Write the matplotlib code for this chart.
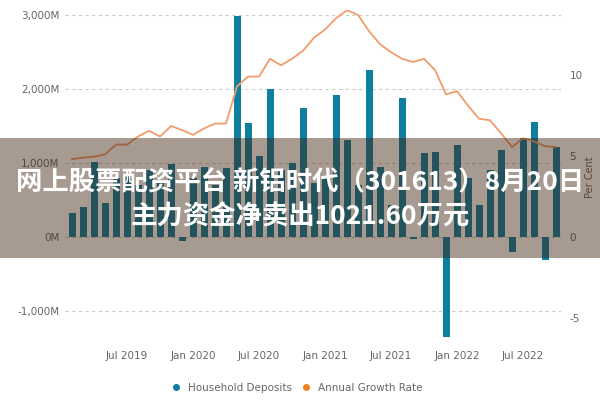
import numpy as np
import pandas as pd
import matplotlib
matplotlib.use("Agg")
import matplotlib.pyplot as plt
from matplotlib.patches import Rectangle
from matplotlib.lines import Line2D

plt.rcParams["axes.unicode_minus"] = False

# monthly data, Feb 2019 .. Oct 2022
months = pd.date_range("2019-02-01", periods=45, freq="MS")

deposits = [330, 400, 1020, 465, 800, 850, 700, 900, 750, 985,
            -50, 800, 950, 700, 930, 2990, 1540, 1100, 2000, 900,
            1000, 1740, 730, 800, 1920, 1310, 700, 2260, 950, 430,
            1880, -30, 1130, 1150, -1350, 1240, 800, 430, 900, 1170,
            -200, 1340, 1550, -310, 1220]

growth = [4.8, 4.9, 4.95, 5.1, 5.7, 5.7, 6.2, 6.55, 6.2, 6.85,
          6.6, 6.3, 6.7, 7.0, 7.0, 9.3, 9.9, 9.9, 11.0, 10.6,
          11.0, 11.5, 12.3, 12.8, 13.5, 14.0, 13.7, 12.7, 11.9, 11.4,
          11.0, 10.8, 11.0, 10.3, 8.8, 9.0, 8.1, 7.3, 7.2, 6.4,
          5.55, 6.1, 5.9, 5.6, 5.55]

left_ticks = [-1000, 0, 1000, 2000, 3000]
left_labels = ["-1,000M", "0M", "1,000M", "2,000M", "3,000M"]
right_ticks = [-5, 0, 5, 10]

title1 = "网上股票配资平台 新铝时代（301613）8月20日"
title2 = "主力资金净卖出1021.60万元"

bar_color = "#0f7fa0"
line_color = "#f39c6b"
grey = "#666666"

x = np.arange(len(months))

fig = plt.figure(figsize=(6, 4), dpi=100)
ax = fig.add_axes([65 / 600, 1 - 345 / 400, 496 / 600, 335 / 400])
ax.bar(x, deposits, width=0.64, color=bar_color, zorder=2)
ax.set_ylim(-1459, 3068)
ax.set_xlim(-0.64, 44.45)
ax.set_yticks(left_ticks)
ax.set_yticklabels(left_labels)
ax.grid(axis="y", color="#cccccc", linestyle=(0, (3, 3)), linewidth=0.8, zorder=0)

# x ticks every 6 months starting Jul 2019
tick_idx = [i for i, m in enumerate(months) if m.month in (1, 7)]
ax.set_xticks(tick_idx)
ax.set_xticklabels([months[i].strftime("%b %Y") for i in tick_idx])

for s in ax.spines.values():
    s.set_visible(False)
ax.tick_params(length=0, colors=grey, labelsize=7.5, pad=4)

ax2 = ax.twinx()
ax2.plot(x, growth, color=line_color, linewidth=1.3, zorder=3)
ax2.set_ylim(-6.67, 14.01)
ax2.set_yticks(right_ticks)
for s in ax2.spines.values():
    s.set_visible(False)
ax2.tick_params(length=0, colors=grey, labelsize=7.5, pad=6)
ax2.set_ylabel("Per Cent", color=grey, fontsize=7, labelpad=2)

handles = [Line2D([], [], marker="o", linestyle="", color=bar_color, markersize=4),
           Line2D([], [], marker="o", linestyle="", color="#f07f1e", markersize=4)]
fig.legend(handles, ["Household Deposits", "Annual Growth Rate"], loc="center",
           bbox_to_anchor=(0.49, 1 - 388 / 400), ncol=2, frameon=False,
           fontsize=7.5, labelcolor=grey, handletextpad=0.1, columnspacing=0.4)

# dark translucent banner with title
fig.add_artist(Rectangle((0, 1 - 258 / 400), 1, 120 / 400, transform=fig.transFigure,
                         facecolor=(0.24, 0.12, 0.04, 0.45), edgecolor="none", zorder=10))
fig.text(0.5, 1 - 183 / 400, title1, ha="center", va="center", color="white",
         fontsize=19, fontweight="bold", family=["Noto Sans CJK SC", "DejaVu Sans"], zorder=11)
fig.text(0.5, 1 - 217 / 400, title2, ha="center", va="center", color="white",
         fontsize=19, fontweight="bold", family=["Noto Sans CJK SC", "DejaVu Sans"], zorder=11)

fig.savefig("out.png", dpi=100)
